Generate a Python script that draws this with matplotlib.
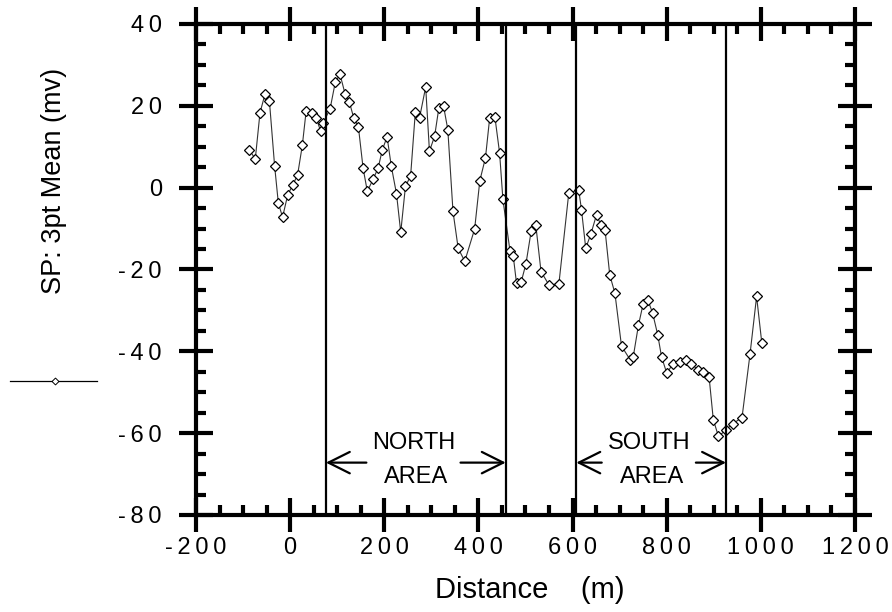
import matplotlib
matplotlib.use("Agg")
import matplotlib.pyplot as plt
from matplotlib.ticker import MultipleLocator, FuncFormatter
from matplotlib.lines import Line2D

plt.rcParams['font.family'] = ['Liberation Sans', 'DejaVu Sans']

# SP profile, 3 point running mean
distance = [-87, -74, -64, -53, -44, -33, -25, -16, -5, 6, 16, 26, 34, 46, 55, 65, 70,
            85, 96, 106, 117, 126, 135, 145, 155, 164, 176, 187, 196, 206, 215, 226, 235,
            245, 256, 266, 275, 288, 296, 307, 316, 326, 335, 346, 357, 371, 392, 403,
            415, 424, 435, 445, 452, 467, 474, 481, 491, 501, 512, 522, 533, 550, 571,
            592, 613, 619, 628, 639, 651, 660, 669, 679, 690, 704, 722, 729, 740, 750,
            760, 770, 781, 789, 800, 814, 828, 840, 852, 867, 878, 890, 899, 910, 926,
            940, 960, 977, 991, 1002]
sp_mean = [9.3, 7.0, 18.3, 23.0, 21.2, 5.4, -3.8, -7.2, -1.7, 0.7, 3.2, 10.4, 18.7, 18.3,
           17.1, 13.8, 15.8, 19.3, 25.8, 27.7, 22.8, 20.9, 17.1, 14.9, 4.8, -0.9, 2.0, 4.8,
           9.3, 12.4, 5.2, -1.5, -10.9, 0.3, 2.9, 18.5, 17.1, 24.6, 8.9, 12.6, 19.5, 19.9,
           14.2, -5.8, -14.8, -18.0, -10.1, 1.7, 7.3, 17.1, 17.3, 8.5, -2.8, -15.4, -16.7,
           -23.4, -23.0, -18.6, -10.7, -9.2, -20.5, -23.8, -23.5, -1.3, -0.5, -5.4, -14.8,
           -11.3, -6.6, -9.1, -10.3, -21.3, -25.8, -38.7, -42.0, -41.3, -33.6, -28.4,
           -27.5, -30.6, -36.0, -41.3, -45.3, -43.0, -42.6, -42.0, -43.0, -44.6, -45.0,
           -46.2, -56.7, -60.8, -59.2, -57.7, -56.2, -40.7, -26.6, -37.9]

# survey area boundaries (m)
north_area = (76, 458)
south_area = (608, 926)
area_names = ["NORTH", "SOUTH"]

fig = plt.figure(figsize=(8.92, 6.12), dpi=100)
ax = fig.add_axes([0.2197, 0.1585, 0.7388, 0.8023])

ax.plot(distance, sp_mean, color='#333333', lw=0.8,
        marker='D', ms=5.5, mfc='white', mec='black', mew=0.9)

for xb in north_area + south_area:
    ax.axvline(xb, color='black', lw=1.6)

# area labels with double arrows
arrow_y = -67.2
for name, (x0, x1) in zip(area_names, [north_area, south_area]):
    mid = (x0 + x1) / 2 - 5
    ax.text(mid, -62.4, name, ha='center', va='center', fontsize=17)
    ax.text(mid + 6, -70.8, "AREA", ha='center', va='center', fontsize=17)
    for start, end in [(mid - 100, x0), (mid + 100, x1)]:
        ax.annotate("", xy=(end, arrow_y), xytext=(start, arrow_y),
                    arrowprops=dict(arrowstyle='->,head_length=0.7,head_width=0.35',
                                    lw=1.6, color='black', shrinkA=0, shrinkB=0,
                                    mutation_scale=22))

ax.set_xlim(-200, 1200)
ax.set_ylim(-80, 40)
ax.xaxis.set_major_locator(MultipleLocator(200))
ax.xaxis.set_minor_locator(MultipleLocator(50))
ax.yaxis.set_major_locator(MultipleLocator(20))
ax.yaxis.set_minor_locator(MultipleLocator(5))

spaced = FuncFormatter(lambda v, p: "\u2009".join(f"{int(round(v))}"))
ax.xaxis.set_major_formatter(spaced)
ax.yaxis.set_major_formatter(spaced)

for s in ax.spines.values():
    s.set_linewidth(3)
ax.tick_params(which='major', direction='inout', length=25, width=3,
               top=True, right=True, labelsize=17, pad=3)
ax.tick_params(axis='y', which='major', pad=12)
ax.tick_params(which='minor', direction='in', length=7, width=3,
               top=True, right=True)

ax.set_xlabel("Distance    (m)", fontsize=21)
ax.set_ylabel("SP: 3pt Mean (mv)", fontsize=19.5)
ax.xaxis.set_label_coords(0.507, -0.125)
ax.yaxis.set_label_coords(-0.195, 0.68)

# legend sample at the left margin
fig.add_artist(Line2D([0.011, 0.109], [0.3775, 0.3775], transform=fig.transFigure,
                      color='black', lw=0.9))
fig.add_artist(Line2D([0.0617], [0.3775], transform=fig.transFigure, marker='D',
                      ms=3.5, mfc='white', mec='black', mew=0.7))

fig.savefig("out.png", dpi=100)
